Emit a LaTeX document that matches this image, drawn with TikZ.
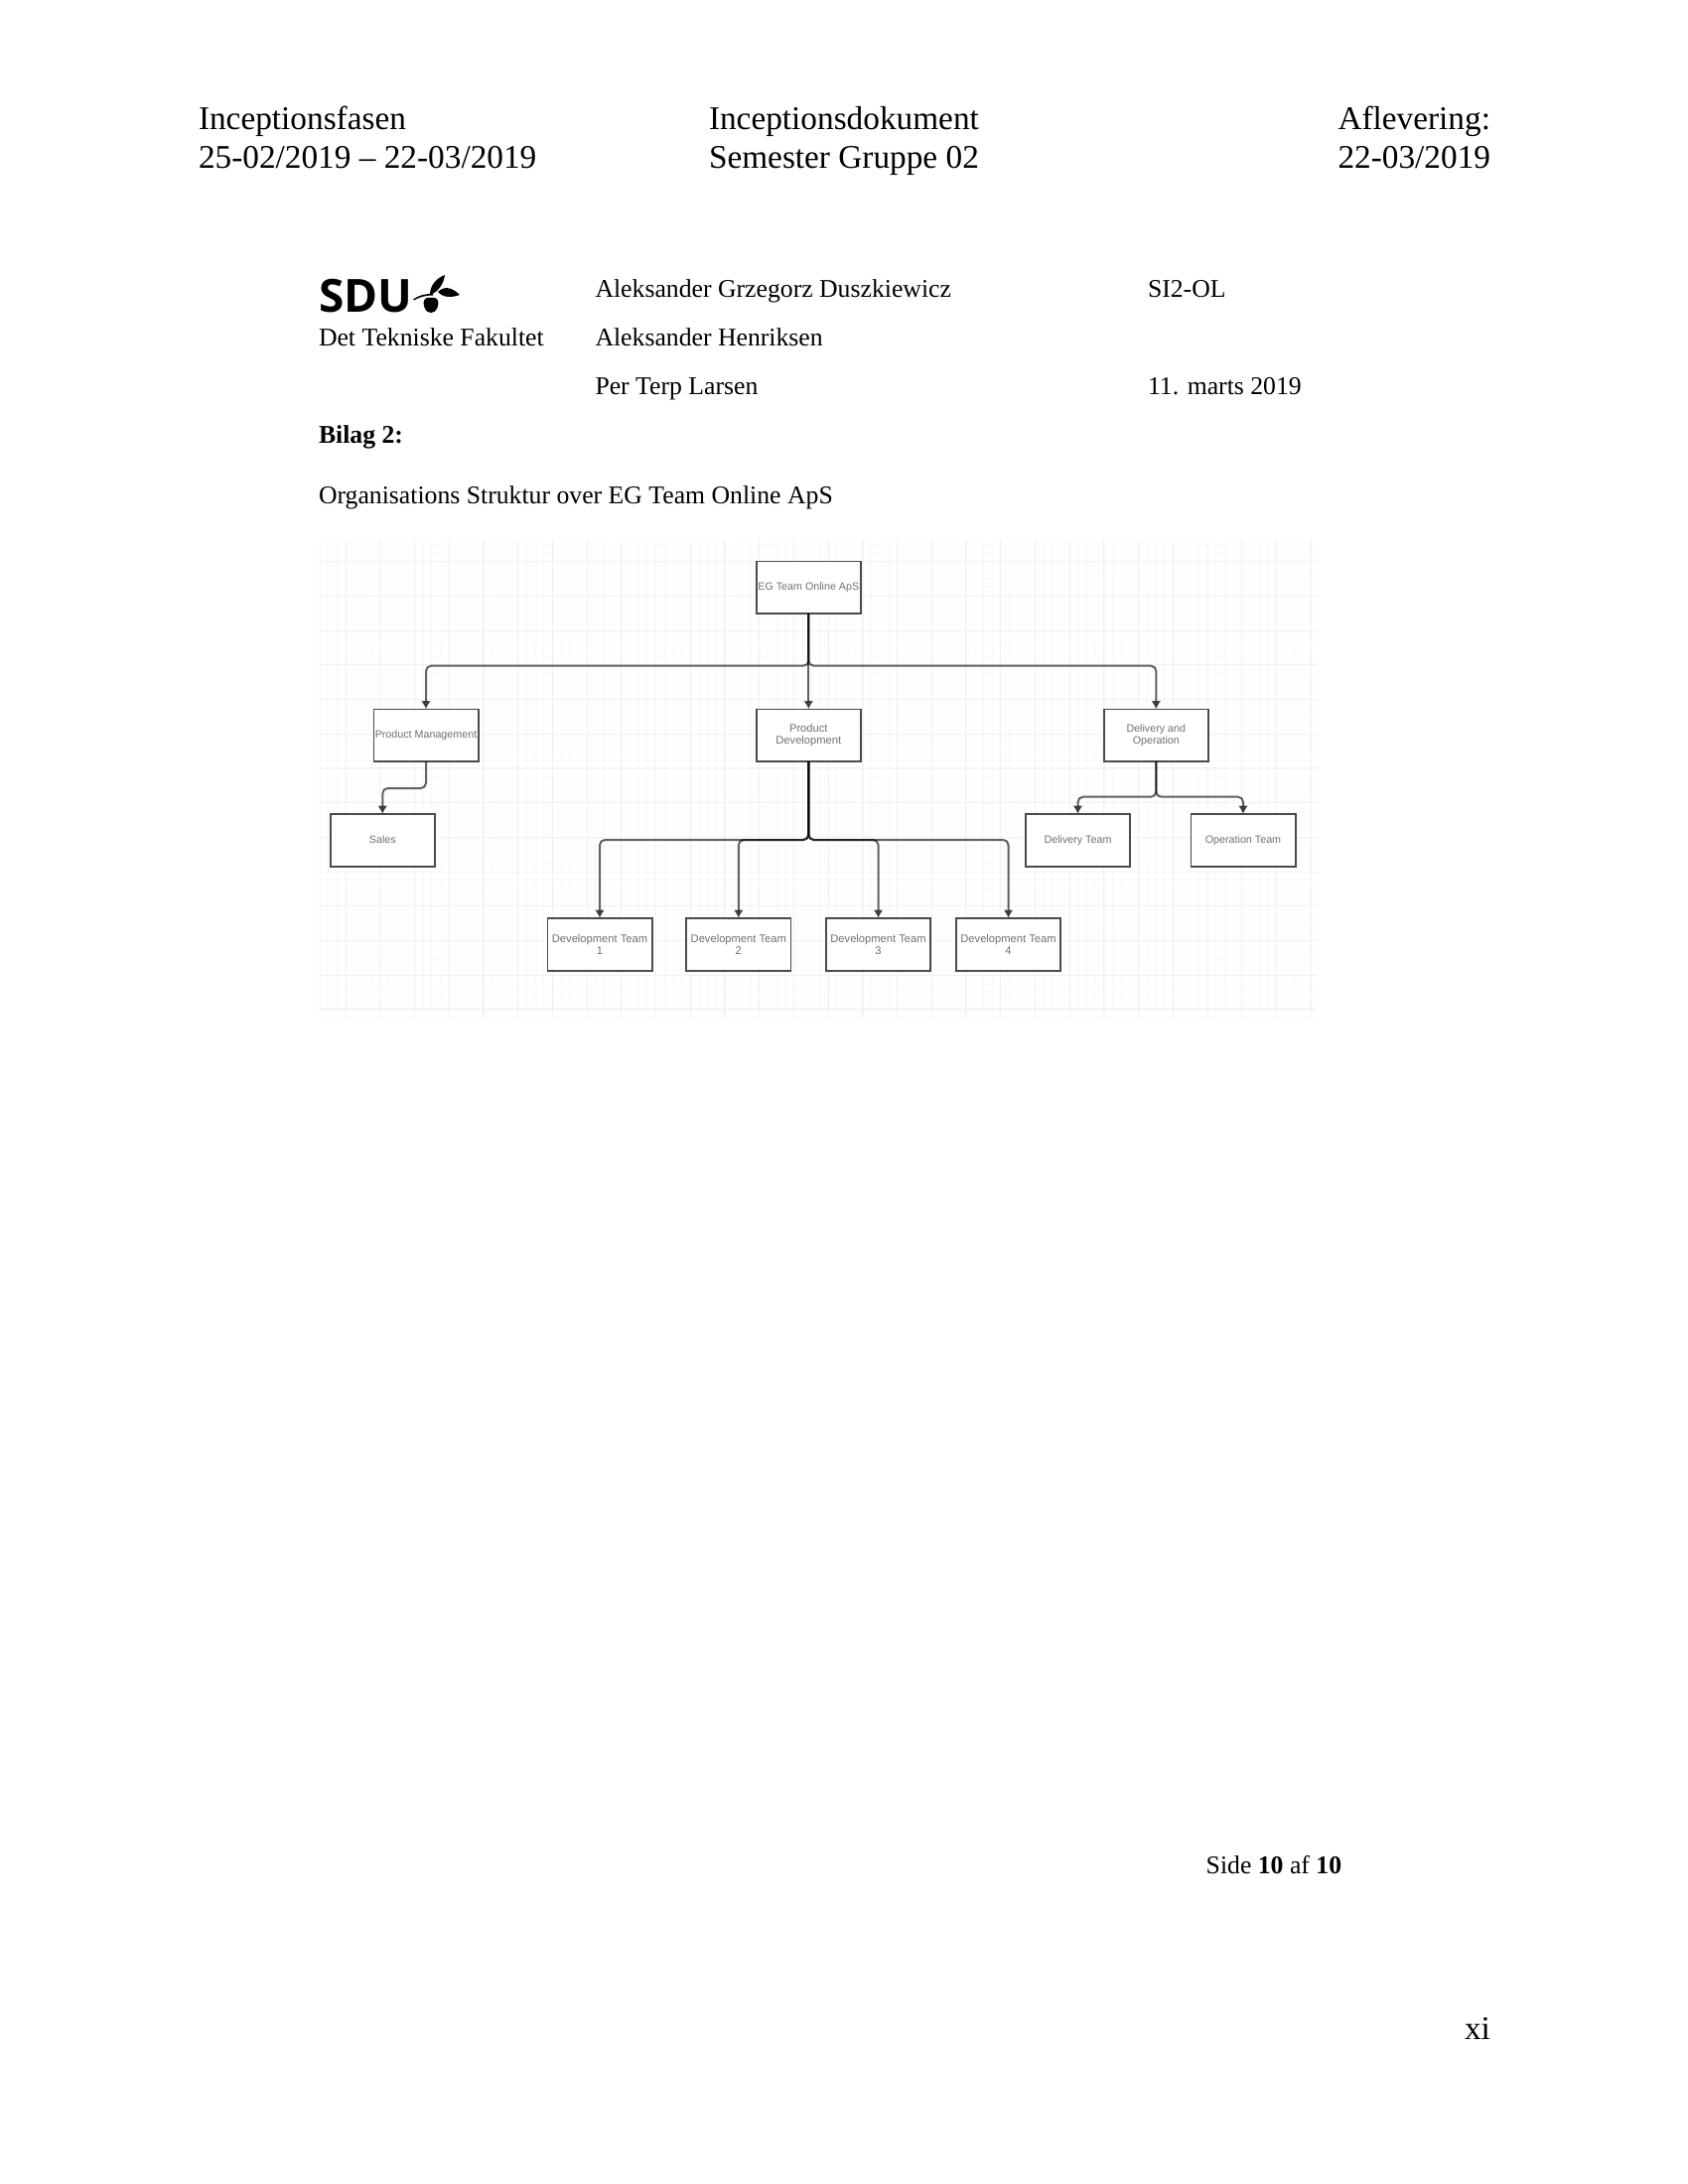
\documentclass[tikz,border=0pt]{standalone}
\usepackage{fontspec}
\setmainfont{Liberation Serif}
\setsansfont{Liberation Sans}
\newfontfamily\logofont{Open Sans}
\usetikzlibrary{arrows.meta}
\definecolor{gridminor}{HTML}{F8F8F8}
\definecolor{gridmajor}{HTML}{F0F0F0}
\definecolor{boxline}{HTML}{4A4A4A}
\definecolor{boxtext}{HTML}{707070}
\tikzset{
  headtext/.style={anchor=base west,inner sep=0pt,outer sep=0pt,font=\fontsize{16.65pt}{19.35pt}\selectfont},
  bodytext/.style={anchor=base west,inner sep=0pt,outer sep=0pt,font=\fontsize{12.86pt}{15pt}\selectfont},
  orgbox/.style={draw=boxline,line width=0.9pt,fill=white,minimum width=52.6pt,minimum height=26.4pt,
    inner sep=0pt,outer sep=0pt,align=center,text=boxtext,font=\sffamily\fontsize{5.36pt}{6.3pt}\selectfont},
  orgwide/.style={orgbox,font=\sffamily\fontsize{5.58pt}{6.3pt}\selectfont},
  conn/.style={draw=black,opacity=0.62,line width=1pt,rounded corners=2.6pt,
    -{Latex[length=4.2pt,width=5pt]}},
  gridm/.style={draw=gridminor,line width=0.35pt},
  gridM/.style={draw=gridmajor,line width=0.5pt}
}
\begin{document}
\begin{tikzpicture}[x=0.5pt,y=-0.5pt]
\useasboundingbox (0,0) rectangle (1700,2200);
% header
\node[headtext] (h1a) at (200,130) {Inceptionsfasen};
\node[headtext] (h1b) at (200,169) {25-02/2019 -- 22-03/2019};
\node[headtext] (h2a) at (714,130) {Inceptionsdokument};
\node[headtext] (h2b) at (714,169) {Semester Gruppe 02};
\node[headtext] (h3a) at (1347.5,130) {Aflevering:};
\node[headtext] (h3b) at (1347.5,169) {22-03/2019};
% logo
\node[anchor=base west,inner sep=0pt,outer sep=0pt,font=\logofont\bfseries\fontsize{23pt}{23pt}\selectfont] (sdu) at (321.5,314) {SDU};
\fill[black] (434,315) .. controls (428,315) and (426.4,308) .. (426.6,304.5) .. controls (426.8,300.5) and (431,299) .. (434,300) .. controls (437,299) and (441.2,300.5) .. (441.4,304.5) .. controls (441.6,308) and (440,315) .. (434,315) -- cycle;
\fill[black] (416,301.5) .. controls (421,298) and (428,295.5) .. (436,296) -- (436,297.5) .. controls (428,297.5) and (422,299.5) .. (417,302.5) -- cycle;
\fill[black] (433,297) .. controls (433,287) and (440,280) .. (448,277) .. controls (447,285) and (442,294) .. (433,297) -- cycle;
\fill[black] (441,294) .. controls (447,288) and (455,289) .. (463,297) .. controls (455,300) and (446,300) .. (441,294) -- cycle;
\node[bodytext] (fac) at (321,348.7) {Det Tekniske Fakultet};
\node[bodytext] (n1) at (599.5,299.5) {Aleksander Grzegorz Duszkiewicz};
\node[bodytext] (n2) at (599.5,348.7) {Aleksander Henriksen};
\node[bodytext] (n3) at (599.5,397.3) {Per Terp Larsen};
\node[bodytext] (cl) at (1156,299.5) {SI2-OL};
\node[bodytext] (dt) at (1156,397.3) {11. marts 2019};
\node[bodytext,font=\fontsize{12.86pt}{15pt}\selectfont\bfseries] (bil) at (321,446) {Bilag 2:};
\node[bodytext] (tit) at (321,507.3) {Organisations Struktur over EG Team Online ApS};
% grid
\foreach \k in {0,...,115} \draw[gridm] ({322+8.68*\k},544) -- ({322+8.68*\k},1026);
\foreach \k in {0,...,55} \draw[gridm] (321,{548.2+8.68*\k}) -- (1327,{548.2+8.68*\k});
\foreach \k in {0,...,28} \draw[gridM] ({348+34.72*\k},544) -- ({348+34.72*\k},1026);
\foreach \k in {0,...,13} \draw[gridM] (321,{565.6+34.72*\k}) -- (1327,{565.6+34.72*\k});
% boxes
\node[orgbox] (eg) at (814.3,591.8) {EG Team Online ApS};
\node[orgbox] (pm) at (429,740.8) {Product Management};
\node[orgwide] (pd) at (814.3,740.8) {Product\\Development};
\node[orgbox] (do) at (1164.3,740.8) {Delivery and\\Operation};
\node[orgbox] (sa) at (385.3,846.4) {Sales\vphantom{y}};
\node[orgbox] (dl) at (1085.5,846.4) {Delivery Team};
\node[orgbox] (op) at (1252,846.4) {Operation Team};
\node[orgwide] (d1) at (604,951.3) {Development Team\\1};
\node[orgwide] (d2) at (743.8,951.3) {Development Team\\2};
\node[orgwide] (d3) at (884.5,951.3) {Development Team\\3};
\node[orgwide] (d4) at (1015.5,951.3) {Development Team\\4};
% routing levels
\coordinate (ja) at (0,670.7);
\coordinate (jb) at (0,794);
\coordinate (jc) at (0,846);
\coordinate (jd) at (0,802.7);
% connectors
\draw[conn] (eg.south) -- (eg.south|-ja) -- (pm.north|-ja) -- (pm.north);
\draw[conn] (eg.south) -- (pd.north);
\draw[conn] (eg.south) -- (eg.south|-ja) -- (do.north|-ja) -- (do.north);
\draw[conn] (pm.south) -- (pm.south|-jb) -- (sa.north|-jb) -- (sa.north);
\draw[conn] (pd.south) -- (pd.south|-jc) -- (d1.north|-jc) -- (d1.north);
\draw[conn] (pd.south) -- (pd.south|-jc) -- (d2.north|-jc) -- (d2.north);
\draw[conn] (pd.south) -- (pd.south|-jc) -- (d3.north|-jc) -- (d3.north);
\draw[conn] (pd.south) -- (pd.south|-jc) -- (d4.north|-jc) -- (d4.north);
\draw[conn] (do.south) -- (do.south|-jd) -- (dl.north|-jd) -- (dl.north);
\draw[conn] (do.south) -- (do.south|-jd) -- (op.north|-jd) -- (op.north);
% footer
\node[bodytext] (side) at (1214.7,1887) {Side \textbf{10} af \textbf{10}};
\node[headtext] (xi) at (1475,2054) {xi};
\end{tikzpicture}
\end{document}
